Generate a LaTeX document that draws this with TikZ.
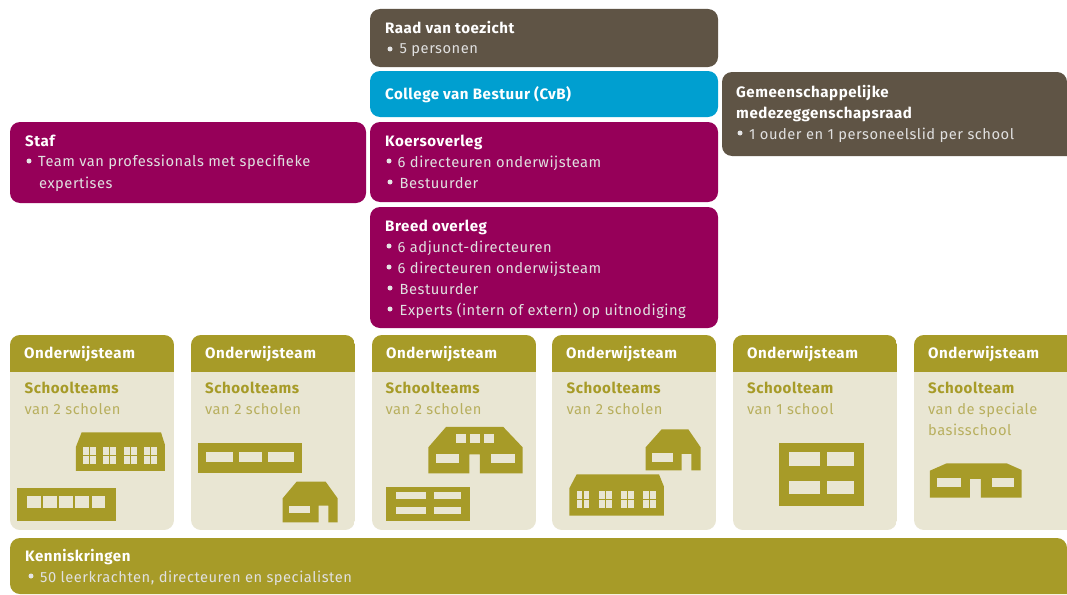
\documentclass[tikz,border=0pt]{standalone}
\usepackage{fontspec}
\setmainfont[LetterSpace=3.5]{Fira Sans}
\definecolor{brownc}{HTML}{5F5445}
\definecolor{bluec}{HTML}{009FD0}
\definecolor{magc}{HTML}{960059}
\definecolor{olive}{HTML}{A79B28}
\definecolor{cardc}{HTML}{E9E6D3}
\definecolor{softc}{HTML}{B8AF5E}
\tikzset{
  lbl/.style={anchor=base west,inner sep=0pt,font=\fontsize{14.7}{16}\selectfont},
  headw/.style={lbl,text=white,font=\fontsize{15.1}{16}\selectfont\bfseries},
  bodyw/.style={lbl,text=white!88!black},
  bul/.style={circle,fill=white!90!black,inner sep=0pt,minimum size=5pt},
  headc/.style={lbl,text=olive,font=\fontsize{15.1}{16}\selectfont\bfseries},
  bodyc/.style={lbl,text=softc},
  bld/.style={fill=olive},
  win/.style={fill=cardc},
  zm/.style={x=0.3333pt,y=-0.3333pt},
}
\newcommand{\card}[3]{% left, right, name
  \begin{scope}
  \clip[rounded corners=10pt] (#1,335) rectangle (#2,530);
  \fill[cardc] (#1,335) rectangle (#2,530);
  \fill[olive] (#1,335) rectangle (#2,372);
  \end{scope}
  \node[headw] (#3) at (#1+14,358) {Onderwijsteam};
}
\newcommand{\pane}[4]{% x1 x2 y1 y2: window with a cross
  \fill[win] (#1,#3) rectangle (#2,#4);
  \draw[olive,line width=1.3pt] ({(#1+#2)/2},#3) -- ({(#1+#2)/2},#4);
  \draw[olive,line width=1.3pt] (#1,{(#3+#4)/2}) -- (#2,{(#3+#4)/2});
}
\begin{document}
\begin{tikzpicture}[x=1pt,y=-1pt]
\useasboundingbox (0,0) rectangle (1067,594);
\fill[white] (0,0) rectangle (1067,594);
% top boxes
\fill[brownc,rounded corners=10pt] (370,9) rectangle (718,67);
\fill[bluec,rounded corners=10pt] (370,71) rectangle (718,117);
\fill[magc,rounded corners=10pt] (370,122) rectangle (718,202);
\fill[magc,rounded corners=10pt] (370,207) rectangle (718,328);
\fill[magc,rounded corners=10pt] (10,122) rectangle (366,203);
\fill[brownc,rounded corners=10pt] (1067,156) -- (722,156) -- (722,72) -- (1067,72) [sharp corners] -- cycle;
% text: top boxes
\node[headw] (t1) at (385,34) {Raad van toezicht};
\node[bul] (b1) at (390,49) {};
\node[bodyw] (t2) at (399.5,54) {5 personen};
\node[headw] (t3) at (385,99) {College van Bestuur (CvB)};
\node[headw] (t4) at (385,146) {Koersoverleg};
\node[bul] (b2) at (389,161) {};
\node[bodyw] (t5) at (397.5,167) {6 directeuren onderwijsteam};
\node[bul] (b3) at (390,182) {};
\node[bodyw] (t6) at (399.5,188) {Bestuurder};
\node[headw] (t7) at (385,231) {Breed overleg};
\node[bul] (b4) at (389,246) {};
\node[bodyw] (t8) at (397.5,252) {6 adjunct-directeuren};
\node[bul] (b5) at (389,267) {};
\node[bodyw] (t9) at (397.5,273) {6 directeuren onderwijsteam};
\node[bul] (b6) at (390,288) {};
\node[bodyw] (t10) at (399.5,294) {Bestuurder};
\node[bul] (b7) at (390,309) {};
\node[bodyw] (t11) at (399.5,315) {Experts (intern of extern) op uitnodiging};
\node[headw] (t12) at (25,146) {Staf};
\node[bul] (b8) at (29,161) {};
\node[bodyw] (t13) at (38,166) {Team van professionals met specifieke};
\node[bodyw] (t14) at (39,188) {expertises};
\node[headw] (t15) at (736,97) {Gemeenschappelijke};
\node[headw] (t16) at (736,118) {medezeggenschapsraad};
\node[bul] (b9) at (740,133) {};
\node[bodyw] (t17) at (749,139) {1 ouder en 1 personeelslid per school};
% cards
\card{10}{174}{o1}
\card{191}{355}{o2}
\card{372}{536}{o3}
\card{552}{716}{o4}
\card{733}{897}{o5}
\card{914}{1090}{o6}
\node[headc] (s1) at (24.5,393) {Schoolteams};
\node[bodyc] (v1) at (24.5,414) {van 2 scholen};
\node[headc] (s2) at (205,393) {Schoolteams};
\node[bodyc] (v2) at (205,414) {van 2 scholen};
\node[headc] (s3) at (385.5,393) {Schoolteams};
\node[bodyc] (v3) at (385.5,414) {van 2 scholen};
\node[headc] (s4) at (566.5,393) {Schoolteams};
\node[bodyc] (v4) at (566.5,414) {van 2 scholen};
\node[headc] (s5) at (747,393) {Schoolteam};
\node[bodyc] (v5) at (747,414) {van 1 school};
\node[headc] (s6) at (928,393) {Schoolteam};
\node[bodyc] (v6) at (928,414) {van de speciale};
\node[bodyc] (v7) at (928,435) {basisschool};
% kenniskringen
\fill[olive,rounded corners=10pt] (1067,594) -- (10,594) -- (10,538) -- (1067,538) [sharp corners] -- cycle;
\node[headw] (t18) at (25,561) {Kenniskringen};
\node[bul] (b10) at (31,576) {};
\node[bodyw] (t19) at (40,582) {50 leerkrachten, directeuren en specialisten};
% buildings, cards 1-2 (coordinates in 3x crop units)
\begin{scope}[shift={(0,330)},zm]
\fill[bld] (245,307) -- (483,307) -- (495,345) -- (495,423) -- (228,423) -- (228,350) -- cycle;
\pane{248}{287}{352}{403}\pane{310}{349}{352}{403}\pane{372}{411}{352}{403}\pane{433}{472}{352}{403}
\fill[bld] (51,475) rectangle (347,573);
\foreach \a/\b in {82/122,130/170,178/218,226/268,275/315} \fill[win] (\a,498) rectangle (\b,535);
\fill[bld] (593,340) rectangle (907,430);
\foreach \a/\b in {618/698,717/786,803/882} \fill[win] (\a,365) rectangle (\b,396);
\fill[bld] (890,455) -- (977,455) -- (1013,505) -- (1013,577) -- (985,577) -- (985,527) -- (956,527) -- (956,577) -- (848,577) -- (848,505) -- cycle;
\fill[win] (868,527) rectangle (931,550);
\end{scope}
% cards 3-4
\begin{scope}[shift={(360,330)},zm]
\fill[bld] (258,291) -- (430,291) -- (488,352) -- (488,430) -- (360,430) -- (360,373) -- (328,373) -- (328,430) -- (205,430) -- (205,352) -- cycle;
\foreach \a/\b in {288/317,331/360,373/402} \fill[win] (\a,311) rectangle (\b,339);
\foreach \a/\b in {227/298,393/464} \fill[win] (\a,371) rectangle (\b,400);
\fill[bld] (78,471) rectangle (331,573);
\foreach \y/\z in {487/507,532/552} {\fill[win] (107,\y) rectangle (198,\z); \fill[win] (221,\y) rectangle (302,\z);}
\fill[bld] (905,298) -- (985,298) -- (1022,352) -- (1022,421) -- (994,421) -- (994,372) -- (965,372) -- (965,421) -- (857,421) -- (857,352) -- cycle;
\fill[win] (877,370) rectangle (940,395);
\fill[bld] (650,433) -- (897,433) -- (912,470) -- (912,557) -- (628,557) -- (628,475) -- cycle;
\pane{650}{688}{483}{535}\pane{717}{755}{483}{535}\pane{783}{822}{483}{535}\pane{850}{888}{483}{535}
\end{scope}
% cards 5-6
\begin{scope}[shift={(720,330)},zm]
\fill[bld] (177,340) rectangle (431,529);
\foreach \y/\z in {367/407,452/491} {\fill[win] (206,\y) rectangle (299,\z); \fill[win] (320,\y) rectangle (402,\z);}
\fill[bld] (680,400) -- (860,400) -- (905,420) -- (905,503) -- (783,503) -- (783,447) -- (750,447) -- (750,503) -- (630,503) -- (630,422) -- cycle;
\fill[win] (652,445) rectangle (723,472);
\fill[win] (815,445) rectangle (882,472);
\end{scope}
\end{tikzpicture}
\end{document}
